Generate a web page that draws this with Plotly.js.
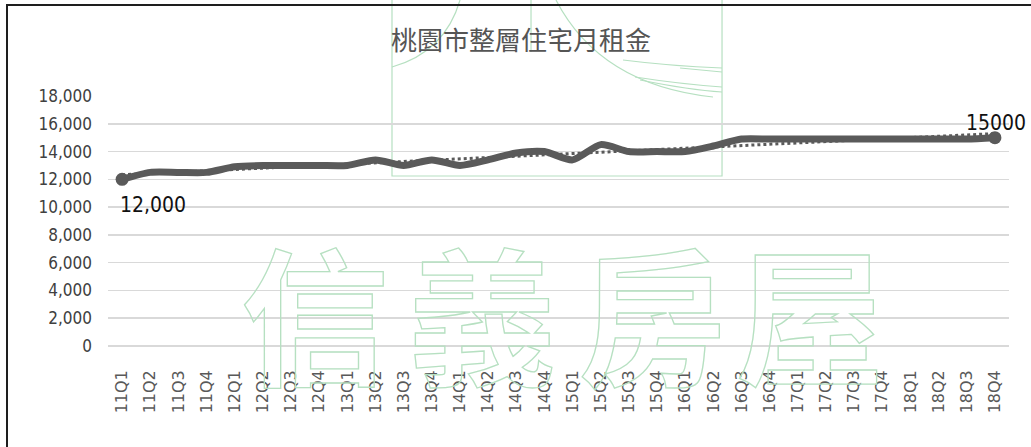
<!DOCTYPE html>
<html>
<head>
<meta charset="utf-8">
<script src="https://cdn.plot.ly/plotly-3.0.1.min.js"></script>
<style>
  html, body { margin: 0; padding: 0; background: #fff; }
  #chart { width: 1031px; height: 447px; position: relative; }
  #frame { position: absolute; left: 6px; top: 4px; width: 1025px; height: 443px;
           border-left: 2px solid #1e1e1e; border-top: 2px solid #1e1e1e;
           box-sizing: border-box; pointer-events: none; }
</style>
</head>
<body>
<div id="chart"></div>
<div id="frame"></div>
<script>
// Quarter labels, 2011 Q1 through 2018 Q4
const quarters = [
  "11Q1","11Q2","11Q3","11Q4","12Q1","12Q2","12Q3","12Q4",
  "13Q1","13Q2","13Q3","13Q4","14Q1","14Q2","14Q3","14Q4",
  "15Q1","15Q2","15Q3","15Q4","16Q1","16Q2","16Q3","16Q4",
  "17Q1","17Q2","17Q3","17Q4","18Q1","18Q2","18Q3","18Q4"
];
// Monthly rent for whole-unit housing in Taoyuan (NT$)
const rent = [
  12000, 12500, 12500, 12500, 12900, 13000, 13000, 13000,
  13000, 13400, 13000, 13400, 13000, 13400, 13900, 14000,
  13400, 14500, 14000, 14000, 14000, 14400, 14900, 14900,
  14900, 14900, 14900, 14900, 14900, 14900, 14900, 15000
];
const yTicks = [0, 2000, 4000, 6000, 8000, 10000, 12000, 14000, 16000, 18000];
const chartTitle = "桃園市整層住宅月租金";
const brand = ["信", "義", "房", "屋"];

// Linear trend (least squares over the quarter index)
const n = rent.length;
const idx = rent.map((_, i) => i);
const mx = idx.reduce((a, b) => a + b, 0) / n;
const my = rent.reduce((a, b) => a + b, 0) / n;
let sxy = 0, sxx = 0;
for (let i = 0; i < n; i++) { sxy += (i - mx) * (rent[i] - my); sxx += (i - mx) * (i - mx); }
const slope = sxy / sxx, icpt = my - slope * mx;
const trend = idx.map(i => icpt + slope * i);

const GRAY = "#5a5a5a";
const GREEN = "#b6e0c1";

// Plot-area geometry (pixels) used for the background emblem
const L = 108, R = 22, T = 96, B = 101, W = 1031 - L - R, H = 447 - T - B;
const px = x => ((x - L) / W).toFixed(4);
const py = y => ((447 - B - y) / H).toFixed(4);
function path(cmds) {
  return cmds.map(c => c[0] + " " + c.slice(1).map((v, k) => k % 2 === 0 ? px(v) : py(v)).join(" ")).join(" ");
}
const emblem = [
  [["M", 392, 0], ["L", 392, 176], ["L", 722, 176], ["L", 722, 0]],
  [["M", 392, 67], ["Q", 445, 52, 460, 0]],
  [["M", 531, 0], ["L", 531, 52]],
  [["M", 556, 0], ["Q", 600, 85, 713, 97]],
  [["M", 623, 60], ["Q", 670, 66, 722, 68]],
  [["M", 680, 68], ["L", 722, 72]],
  [["M", 635, 77], ["Q", 680, 84, 722, 87]],
  [["M", 640, 80], ["Q", 690, 90, 722, 92]]
].map(p => ({
  type: "path", xref: "paper", yref: "paper", path: path(p),
  line: { color: GREEN, width: 1.2 }, layer: "below"
}));

const brandX = [315, 482, 652, 810];
const brandNotes = brand.map((ch, i) => ({
  xref: "paper", yref: "paper", x: +px(brandX[i]), y: +py(309),
  xanchor: "center", yanchor: "middle", showarrow: false, text: ch,
  font: { family: "Noto Sans CJK TC, Noto Sans CJK SC, sans-serif", size: 148, weight: 700, color: GREEN }
}));

const labelFont = { family: "DejaVu Sans Condensed, DejaVu Sans, sans-serif", size: 21, color: "#111" };

const traces = [
  {
    x: quarters, y: trend, type: "scatter", mode: "lines", hoverinfo: "skip",
    line: { color: GRAY, width: 3, dash: "dot" }
  },
  {
    x: quarters, y: rent, type: "scatter", mode: "lines",
    line: { color: GRAY, width: 7, shape: "spline", smoothing: 0.7 }
  },
  {
    x: [quarters[0], quarters[n - 1]], y: [rent[0], rent[n - 1]],
    type: "scatter", mode: "markers",
    marker: { color: GRAY, size: 13 }
  }
];

const layout = {
  width: 1031, height: 447,
  margin: { l: L, r: R, t: T, b: B },
  paper_bgcolor: "#fff", plot_bgcolor: "#fff",
  showlegend: false,
  title: {
    text: chartTitle, xref: "container", yref: "container",
    x: 521 / 1031, xanchor: "center", y: 1 - 41 / 447, yanchor: "middle",
    font: { family: "Noto Sans CJK TC, Noto Sans CJK SC, sans-serif", size: 26, color: "#555" }
  },
  xaxis: {
    type: "category", tickangle: -90, range: [-0.5, n - 0.5],
    showgrid: false, zeroline: false, showline: false, ticks: "",
    ticklabelstandoff: 20,
    tickfont: { family: "DejaVu Sans, sans-serif", size: 16, color: "#595959" }
  },
  yaxis: {
    range: [0, 18000], tickvals: yTicks,
    ticktext: yTicks.map(v => v.toLocaleString("en-US")),
    showgrid: true, gridcolor: "#d9d9d9", gridwidth: 1.5,
    zeroline: true, zerolinecolor: "#d9d9d9", zerolinewidth: 1.5,
    showline: false, ticks: "", ticklabelstandoff: 15,
    tickfont: { family: "DejaVu Sans Condensed, DejaVu Sans, sans-serif", size: 17, color: "#404040" }
  },
  shapes: emblem,
  annotations: brandNotes.concat([
    {
      x: quarters[0], y: rent[0], text: rent[0].toLocaleString("en-US"),
      xanchor: "left", yanchor: "top", xshift: -4, yshift: -12,
      showarrow: false, font: labelFont
    },
    {
      x: quarters[n - 1], y: rent[n - 1], text: String(rent[n - 1]),
      xanchor: "center", yanchor: "bottom", xshift: 1, yshift: 1,
      showarrow: false, font: labelFont
    }
  ])
};

Plotly.newPlot("chart", traces, layout, { staticPlot: true }).then(() => {
  // Draw the brand characters as outlines only
  document.querySelectorAll("#chart .annotation-text").forEach(el => {
    if (brand.includes(el.textContent.trim())) {
      el.style.fill = "none";
      el.style.stroke = GREEN;
      el.style.strokeWidth = "1.3px";
    }
  });
});
</script>
</body>
</html>
